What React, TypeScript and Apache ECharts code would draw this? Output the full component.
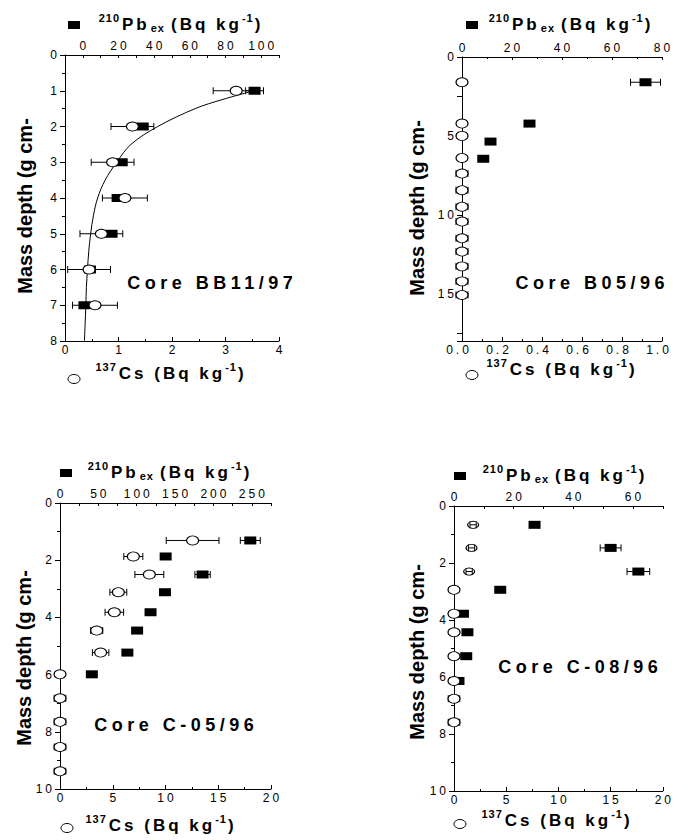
import React, { useEffect, useRef } from 'react';
import * as echarts from 'echarts';

const FONT = "'Liberation Sans', Arial, sans-serif";

// ---------- Panel 1: Core BB11/97 ----------
const bbDepth = [1, 2, 3, 4, 5, 6, 7];
const bbCs = [3.2, 1.26, 0.89, 1.12, 0.68, 0.45, 0.56];
const bbCsErr = [0.43, 0.4, 0.4, 0.42, 0.4, 0.4, 0.42];
const bbPb = [96.3, 33.6, 21.8, 19.5, 16.1, 4.0, 0.9];
const bbPbErr = [5, 2, 2, 2, 2, 1, 1];
const bbFitDepth = [1, 1.25, 1.5, 2, 2.5, 3, 3.5, 4, 4.5, 5, 5.5, 6, 6.5, 7, 7.5, 8];
const bbFitPb = [96, 78, 63, 42, 27, 19, 12.5, 8.3, 5.9, 4.4, 3.3, 2.6, 2.0, 1.7, 1.3, 0.9];

// ---------- Panel 2: Core B05/96 ----------
const b05PbDepth = [1.6, 4.22, 5.36, 6.45];
const b05Pb = [73.4, 27.0, 11.4, 8.5];
const b05PbErr = [6, 1, 1, 1];
const b05CsDepth = [1.6, 4.22, 5.0, 6.4, 7.39, 8.44, 9.49, 10.43, 11.49, 12.33, 13.27, 14.22, 15.08];
const b05Cs = [0, 0, 0, 0, 0, 0, 0, 0, 0, 0, 0, 0, 0];
const b05CsErr = [0, 0, 0, 0, 0.03, 0.03, 0.03, 0.03, 0.03, 0.03, 0.03, 0.03, 0.03];

// ---------- Panel 3: Core C-05/96 ----------
const c05PbDepth = [1.31, 1.87, 2.5, 3.12, 3.82, 4.46, 5.23, 5.99];
const c05Pb = [248, 137.7, 185.8, 136.8, 118, 100.5, 87.8, 41.5];
const c05PbErr = [13, 4, 10, 4, 4, 4, 4, 4];
const c05CsDepth = [1.31, 1.87, 2.5, 3.12, 3.82, 4.46, 5.23, 5.99, 6.83, 7.65, 8.53, 9.38];
const c05Cs = [12.57, 6.95, 8.47, 5.53, 5.15, 3.48, 3.85, 0, 0, 0, 0, 0];
const c05CsErr = [2.5, 0.9, 1.37, 0.8, 0.88, 0.57, 0.78, 0, 0.55, 0.55, 0.55, 0.55];

// ---------- Panel 4: Core C-08/96 ----------
const c08PbDepth = [0.66, 1.47, 2.3, 2.94, 3.78, 4.43, 5.27, 6.14];
const c08Pb = [27.0, 52.5, 61.8, 15.5, 3.0, 4.5, 4.1, 1.5];
const c08PbErr = [1.5, 3.5, 3.8, 1, 1, 1, 1, 1];
const c08CsHatchDepth = [0.66, 1.47, 2.3];
const c08CsHatch = [1.83, 1.68, 1.45];
const c08CsHatchErr = [0.3, 0.3, 0.3];
const c08CsDepth = [2.94, 3.78, 4.43, 5.27, 6.14, 6.76, 7.59];
const c08Cs = [0, 0, 0, 0, 0, 0, 0];
const c08CsErr = [0, 0, 0, 0, 0, 0.55, 0.55];

// ---------- Texts ----------
const panelTitles = ['Core BB11/97', 'Core B05/96', 'Core C-05/96', 'Core C-08/96'];
const depthTitle = 'Mass depth (g cm-';

// font size -> letter spacing (px), the original uses a widely spaced face
const TICK_SIZE = 12;
const MAIN_SIZE = 17;
const SUP_SIZE = 11;
const CORE_SIZE = 18;
const SPACING: Record<number, number> = { 12: 3, 17: 3, 11: 1, 18: 4.5 };

const css = Object.keys(SPACING)
  .map((k) => `#root svg text[style*="${k}px"]{letter-spacing:${SPACING[Number(k)]}px;}`)
  .join('\n');

let measureCtx: CanvasRenderingContext2D | null = null;
function measure(text: string, font: string, sp: number) {
  if (!measureCtx) measureCtx = document.createElement('canvas').getContext('2d');
  if (!measureCtx) return text.length * 8;
  measureCtx.font = font;
  return measureCtx.measureText(text).width + sp * text.length;
}
function fontOf(size: number) {
  return `bold ${size}px ${FONT}`;
}

type Piece = { t: string; size: number; dy: number; gap: number };

function titlePieces(cx: number, cy: number, pieces: Piece[]) {
  const ws = pieces.map((p) => measure(p.t, fontOf(p.size), SPACING[p.size] || 0));
  const total = pieces.reduce((s, p, i) => s + ws[i] + p.gap, 0);
  let x = cx - total / 2;
  return pieces.map((p, i) => {
    const el = {
      type: 'text', x, y: cy + p.dy, silent: true, z: 10,
      style: { text: p.t, font: fontOf(p.size), fill: '#000', align: 'left', verticalAlign: 'middle' },
    };
    x += ws[i] + p.gap;
    return el;
  });
}

const pbPieces: Piece[] = [
  { t: '210', size: SUP_SIZE, dy: -6, gap: 2 },
  { t: 'Pb', size: MAIN_SIZE, dy: 0, gap: 1 },
  { t: 'ex', size: SUP_SIZE, dy: 4, gap: 6 },
  { t: '(Bq kg', size: MAIN_SIZE, dy: 0, gap: 0 },
  { t: '-1', size: SUP_SIZE, dy: -6, gap: 1 },
  { t: ')', size: MAIN_SIZE, dy: 0, gap: 0 },
];
const csPieces: Piece[] = [
  { t: '137', size: SUP_SIZE, dy: -6, gap: 2 },
  { t: 'Cs (Bq kg', size: MAIN_SIZE, dy: 0, gap: 0 },
  { t: '-1', size: SUP_SIZE, dy: -6, gap: 1 },
  { t: ')', size: MAIN_SIZE, dy: 0, gap: 0 },
];

function pts(values: number[], depths: number[]) {
  return values.map((v, i) => [v, depths[i]]);
}
function errs(values: number[], e: number[], depths: number[]) {
  const out: number[][] = [];
  values.forEach((v, i) => {
    if (e[i] > 0) out.push([v - e[i], v + e[i], depths[i]]);
  });
  return out;
}

function multipleOf(v: number, step: number) {
  const r = v / step;
  return Math.abs(r - Math.round(r)) < 1e-6;
}

function axisCommon(margin: number, tickInside: boolean, minorSplit: number, padding: number[] | number) {
  return {
    type: 'value' as const,
    splitLine: { show: false },
    axisLine: { show: true, onZero: false, lineStyle: { color: '#000', width: 1 } },
    axisTick: { show: true, inside: tickInside, length: tickInside ? 3 : 4, lineStyle: { color: '#000', width: 1 } },
    minorTick: { show: minorSplit > 0, splitNumber: minorSplit || 2, length: 2, lineStyle: { color: '#000', width: 1 } },
    axisLabel: { color: '#000', fontSize: TICK_SIZE, fontFamily: FONT, margin, padding },
  };
}

function errSeries(xi: number, yi: number, data: number[][], z: number) {
  return {
    type: 'custom',
    xAxisIndex: xi,
    yAxisIndex: yi,
    z,
    silent: true,
    data,
    encode: { x: [0, 1], y: 2 },
    renderItem: (params: any, api: any) => {
      const lo = api.coord([api.value(0), api.value(2)]);
      const hi = api.coord([api.value(1), api.value(2)]);
      const h = 3.5;
      const st = { stroke: '#000', lineWidth: 1 };
      return {
        type: 'group',
        children: [
          { type: 'line', shape: { x1: lo[0], y1: lo[1], x2: hi[0], y2: hi[1] }, style: st },
          { type: 'line', shape: { x1: lo[0], y1: lo[1] - h, x2: lo[0], y2: lo[1] + h }, style: st },
          { type: 'line', shape: { x1: hi[0], y1: hi[1] - h, x2: hi[0], y2: hi[1] + h }, style: st },
        ],
      };
    },
  };
}

function squares(xi: number, yi: number, data: number[][]) {
  return {
    type: 'scatter', xAxisIndex: xi, yAxisIndex: yi, z: 3, silent: true,
    symbol: 'rect', symbolSize: [12, 8],
    itemStyle: { color: '#000', borderColor: '#000', borderWidth: 0, opacity: 1 },
    data,
  };
}
function circles(xi: number, yi: number, data: number[][], size = [12, 9], z = 4) {
  return {
    type: 'scatter', xAxisIndex: xi, yAxisIndex: yi, z, silent: true,
    symbol: 'circle', symbolSize: size,
    itemStyle: { color: '#fff', borderColor: '#000', borderWidth: 1, opacity: 1 },
    data,
  };
}

function sqMarker(cx: number, cy: number) {
  return { type: 'rect', silent: true, shape: { x: cx - 6, y: cy - 4, width: 12, height: 8 }, style: { fill: '#000' } };
}
function ciMarker(cx: number, cy: number) {
  return { type: 'ellipse', silent: true, shape: { cx, cy, rx: 6, ry: 4.5 }, style: { fill: '#fff', stroke: '#000', lineWidth: 1 } };
}
function yTitle(x: number, y: number) {
  return {
    type: 'text', x, y, rotation: Math.PI / 2, silent: true,
    style: { text: depthTitle, font: `bold 20px ${FONT}`, fill: '#000', align: 'center', verticalAlign: 'middle' },
  };
}
function coreLabel(x: number, y: number, text: string) {
  return {
    type: 'text', x: x + SPACING[CORE_SIZE] / 2, y, silent: true, z: 10,
    style: { text, font: fontOf(CORE_SIZE), fill: '#000', align: 'center', verticalAlign: 'middle' },
  };
}

function buildOption() {
  const grid = [
    { left: 65, top: 55, width: 214, height: 286 },
    { left: 462, top: 57, width: 200, height: 284 },
    { left: 60, top: 503, width: 211, height: 286 },
    { left: 454, top: 506, width: 211, height: 285 },
  ];
  const sp = SPACING[TICK_SIZE];

  const bx = (g: number, min: number, max: number, interval: number, fmt?: (v: number) => string, pad?: number[]) => {
    const a = axisCommon(3, true, 2, pad || [0, 0, 0, sp]);
    return {
      ...a, gridIndex: g, position: 'bottom', min, max, interval,
      axisTick: { ...a.axisTick, length: 4 },
      axisLabel: fmt ? { ...a.axisLabel, formatter: fmt } : a.axisLabel,
    };
  };
  const tx = (g: number, min: number, max: number, interval: number, minor: number, fmt?: (v: number) => string) => {
    const a = axisCommon(3, true, minor, [0, 0, 0, sp]);
    return { ...a, gridIndex: g, position: 'top', min, max, interval, axisLabel: fmt ? { ...a.axisLabel, formatter: fmt } : a.axisLabel };
  };
  const ly = (g: number, max: number, interval: number, minor: number, fmt?: (v: number) => string) => {
    const a = axisCommon(5, false, minor, 0);
    return {
      ...a, gridIndex: g, inverse: true, min: 0, max, interval,
      axisTick: { ...a.axisTick, length: 5 },
      minorTick: { ...a.minorTick, length: 3 },
      axisLabel: fmt ? { ...a.axisLabel, formatter: fmt } : a.axisLabel,
    };
  };

  const xAxis = [
    bx(0, 0, 4, 1),
    tx(0, -10, 110, 10, 0, (v) => (v >= 0 && v <= 100 && multipleOf(v, 20) ? String(v) : '')),
    bx(1, 0, 1, 0.2, (v) => v.toFixed(1), [0, 6, 0, 0]),
    tx(1, 0, 80, 20, 2),
    bx(2, 0, 20, 5),
    tx(2, 0, 275, 25, 0, (v) => (multipleOf(v, 50) ? String(v) : '')),
    bx(3, 0, 20, 5),
    tx(3, 0, 70, 10, 0, (v) => (multipleOf(v, 20) ? String(v) : '')),
  ];

  const yAxis = [
    ly(0, 8, 1, 2),
    ly(1, 18, 2.5, 0, (v) => (multipleOf(v, 5) ? String(v) : '')),
    ly(2, 10, 2, 2),
    ly(3, 10, 2, 2),
  ];

  const series: any[] = [
    // panel 1
    {
      type: 'line', xAxisIndex: 1, yAxisIndex: 0, z: 2, silent: true, smooth: 0.35,
      symbol: 'none', lineStyle: { color: '#000', width: 1 },
      data: pts(bbFitPb, bbFitDepth),
    },
    errSeries(0, 0, errs(bbCs, bbCsErr, bbDepth), 2),
    errSeries(1, 0, errs(bbPb, bbPbErr, bbDepth), 2),
    squares(1, 0, pts(bbPb, bbDepth)),
    circles(0, 0, pts(bbCs, bbDepth)),
    // panel 2
    errSeries(3, 1, errs(b05Pb, b05PbErr, b05PbDepth), 2),
    errSeries(2, 1, errs(b05Cs, b05CsErr, b05CsDepth), 2),
    squares(3, 1, pts(b05Pb, b05PbDepth)),
    circles(2, 1, pts(b05Cs, b05CsDepth)),
    // panel 3
    errSeries(5, 2, errs(c05Pb, c05PbErr, c05PbDepth), 2),
    errSeries(4, 2, errs(c05Cs, c05CsErr, c05CsDepth), 2),
    squares(5, 2, pts(c05Pb, c05PbDepth)),
    circles(4, 2, pts(c05Cs, c05CsDepth)),
    // panel 4
    errSeries(7, 3, errs(c08Pb, c08PbErr, c08PbDepth), 2),
    errSeries(6, 3, errs(c08Cs, c08CsErr, c08CsDepth), 2),
    squares(7, 3, pts(c08Pb, c08PbDepth)),
    circles(6, 3, pts(c08Cs, c08CsDepth)),
    circles(6, 3, pts(c08CsHatch, c08CsHatchDepth), [11, 7], 4),
    errSeries(6, 3, errs(c08CsHatch, c08CsHatchErr, c08CsHatchDepth), 5),
  ];

  const graphic: any[] = [
    // panel 1
    sqMarker(74, 25), ...titlePieces(181, 24, pbPieces),
    ciMarker(74, 379), ...titlePieces(171, 373, csPieces),
    yTitle(25, 206), coreLabel(210, 283, panelTitles[0]),
    // panel 2
    sqMarker(472, 25), ...titlePieces(571, 24, pbPieces),
    ciMarker(472, 375), ...titlePieces(562, 369, csPieces),
    yTitle(417, 208), coreLabel(590, 283, panelTitles[1]),
    // panel 3
    sqMarker(66, 473), ...titlePieces(170, 472, pbPieces),
    ciMarker(67, 828), ...titlePieces(161, 825, csPieces),
    yTitle(24, 658), coreLabel(174, 725, panelTitles[2]),
    // panel 4
    sqMarker(460, 476), ...titlePieces(565, 475, pbPieces),
    ciMarker(460, 824), ...titlePieces(557, 820, csPieces),
    yTitle(417, 652), coreLabel(578, 667, panelTitles[3]),
  ];

  return {
    animation: false,
    backgroundColor: '#fff',
    textStyle: { fontFamily: FONT },
    grid,
    xAxis,
    yAxis,
    series,
    graphic: { elements: graphic },
  };
}

export default function App() {
  const ref = useRef<HTMLDivElement>(null);
  useEffect(() => {
    document.body.style.margin = '0';
    const chart = echarts.init(ref.current as HTMLDivElement, null, { renderer: 'svg' });
    chart.setOption(buildOption() as any);
    return () => chart.dispose();
  }, []);
  return (
    <>
      <style>{css}</style>
      <div ref={ref} style={{ width: 674, height: 840 }} />
    </>
  );
}
